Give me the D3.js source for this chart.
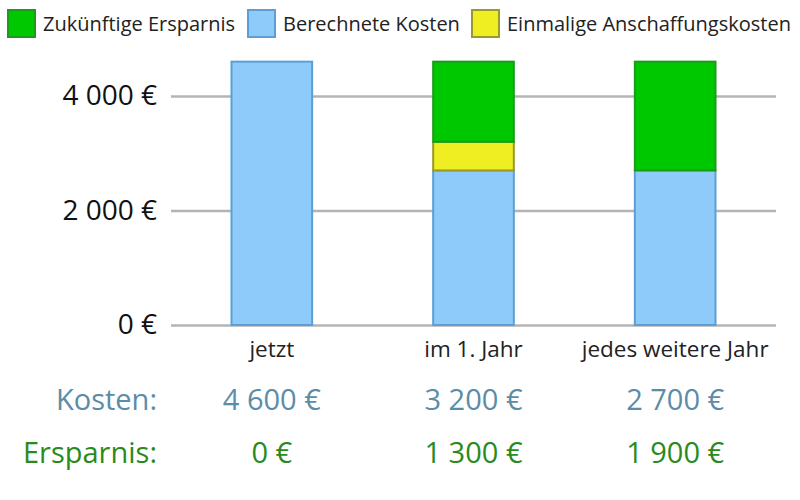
<!DOCTYPE html>
<html><head><meta charset="utf-8">
<script src="https://cdn.jsdelivr.net/npm/d3@7/dist/d3.min.js"></script>
<style>body{margin:0;background:#fff}svg{display:block;font-family:"Open Sans",sans-serif}</style>
</head><body><svg id="c" width="800" height="500"></svg>
<script>
const categories = ["jetzt", "im 1. Jahr", "jedes weitere Jahr"];
const berechneteKosten = [4600, 2700, 2700];
const einmaligeKosten = [0, 500, 0];
const zukuenftigeErsparnis = [0, 1400, 1900];
const kostenLabels = [4600, 3200, 2700];
const ersparnisLabels = [0, 1300, 1900];
const yTicks = [0, 2000, 4000];
const seriesNames = ["Zukünftige Ersparnis", "Berechnete Kosten", "Einmalige Anschaffungskosten"];

const colors = {
  "Zukünftige Ersparnis": {fill: "#00c800", stroke: "#1a9c1a"},
  "Berechnete Kosten": {fill: "#8ecbfa", stroke: "#5b9fd6"},
  "Einmalige Anschaffungskosten": {fill: "#eeee22", stroke: "#9a9a2a"}
};

const locale = d3.formatLocale({decimal: ",", thousands: "\u00a0", grouping: [3], currency: ["", "\u00a0€"]});
const fmt = locale.format("$,.0f");

const svg = d3.select("#c");
const left = 171, right = 776;
const x = d3.scaleBand().domain(categories).range([left, right]).paddingInner(0.6).paddingOuter(0.3);
const y = d3.scaleLinear().domain([0, 4000]).range([325, 96]);

// grid + axis
const ax = svg.append("g").attr("transform", `translate(${left},0)`)
  .call(d3.axisLeft(y).tickValues(yTicks).tickSize(-(right - left)).tickPadding(14).tickFormat(fmt));
ax.select(".domain").remove();
ax.selectAll(".tick line").attr("stroke", "#b4b4b4").attr("stroke-width", 2.5);
ax.selectAll(".tick text").attr("fill", "#111").style("font-size", "28px").style("font-family", "Open Sans");

// stacked data
const rows = categories.map((c, i) => ({
  cat: c,
  "Berechnete Kosten": berechneteKosten[i],
  "Einmalige Anschaffungskosten": einmaligeKosten[i],
  "Zukünftige Ersparnis": zukuenftigeErsparnis[i]
}));
const stackOrder = ["Berechnete Kosten", "Einmalige Anschaffungskosten", "Zukünftige Ersparnis"];
const stacked = d3.stack().keys(stackOrder)(rows);

svg.append("g").selectAll("g").data(stacked).join("g")
  .attr("fill", d => colors[d.key].fill).attr("stroke", d => colors[d.key].stroke).attr("stroke-width", 2)
  .selectAll("rect").data(d => d.filter(p => p[1] - p[0] > 0)).join("rect")
  .attr("x", d => x(d.data.cat)).attr("width", x.bandwidth())
  .attr("y", d => y(d[1])).attr("height", d => y(d[0]) - y(d[1]));

// category labels
svg.append("g").selectAll("text").data(categories).join("text")
  .attr("x", d => x(d) + x.bandwidth() / 2).attr("y", 357)
  .attr("text-anchor", "middle").attr("fill", "#222").style("font-size", "22.5px")
  .text(d => d);

// rows of values
const rowDefs = [
  {label: "Kosten:", vals: kostenLabels, color: "#5b8ca8", y: 410},
  {label: "Ersparnis:", vals: ersparnisLabels, color: "#2a8a1c", y: 463}
];
rowDefs.forEach(r => {
  const g = svg.append("g").attr("fill", r.color).style("font-size", "29px");
  g.append("text").attr("x", 157).attr("y", r.y).attr("text-anchor", "end").text(r.label);
  g.selectAll("text.v").data(r.vals).join("text").attr("class", "v")
    .attr("x", (d, i) => x(categories[i]) + x.bandwidth() / 2).attr("y", r.y)
    .attr("text-anchor", "middle").text(d => fmt(d));
});

// legend
const legendX = [8, 248, 472];
const lg = svg.append("g");
seriesNames.forEach((n, i) => {
  const g = lg.append("g").attr("transform", `translate(${legendX[i]},10)`);
  g.append("rect").attr("x", 0).attr("y", 0).attr("width", 27).attr("height", 27)
    .attr("fill", colors[n].fill).attr("stroke", colors[n].stroke).attr("stroke-width", 2);
  g.append("text").attr("x", 35).attr("y", 21).attr("fill", "#222").style("font-size", "20px").text(n);
});
</script></body></html>
